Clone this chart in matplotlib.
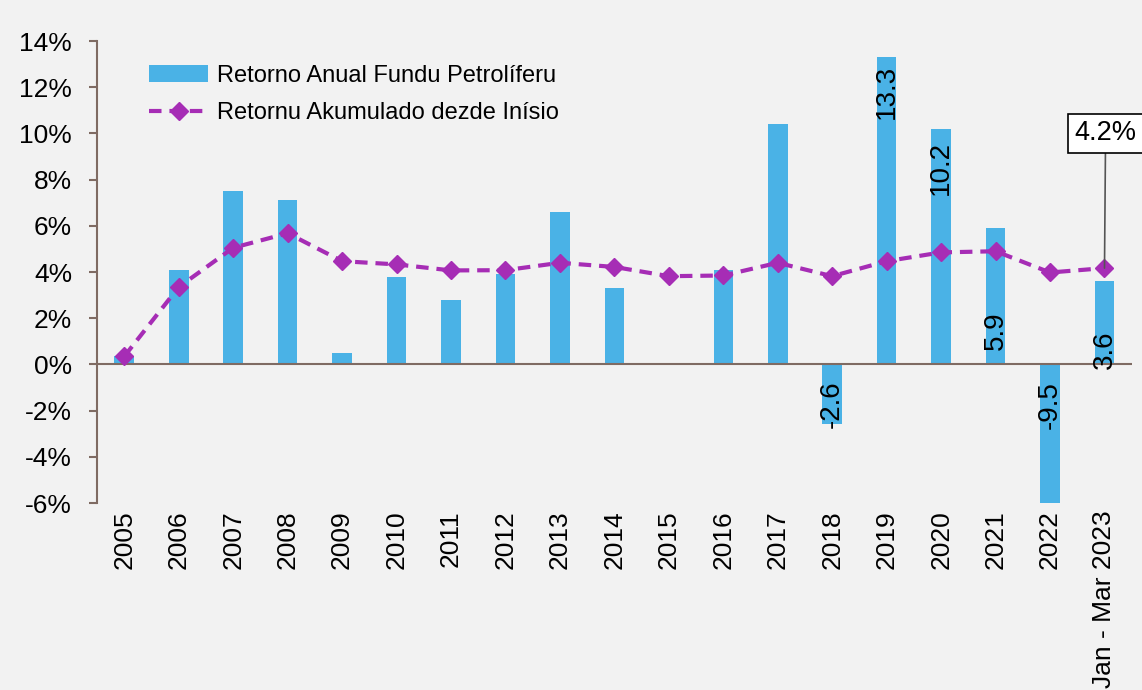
import matplotlib.pyplot as plt
import numpy as np

plt.rcParams['font.family'] = ['Liberation Sans', 'DejaVu Sans']

# data
years = ['2005', '2006', '2007', '2008', '2009', '2010', '2011', '2012', '2013', '2014',
         '2015', '2016', '2017', '2018', '2019', '2020', '2021', '2022', 'Jan - Mar 2023']
annual = [0.35, 4.1, 7.5, 7.1, 0.5, 3.8, 2.8, 3.9, 6.6, 3.3,
          0.0, 4.1, 10.4, -2.6, 13.3, 10.2, 5.9, -9.5, 3.6]
cumulative = [0.35, 3.35, 5.05, 5.68, 4.47, 4.33, 4.07, 4.08, 4.4, 4.22,
              3.82, 3.85, 4.4, 3.82, 4.47, 4.85, 4.9, 3.98, 4.17]
labelled = {13: '-2.6', 14: '13.3', 15: '10.2', 16: '5.9', 17: '-9.5', 18: '3.6'}
label_y = {13: -1.7, 14: 11.8, 15: 8.5, 16: 1.45, 17: -1.75, 18: 0.65}

bar_color = '#4AB2E6'
line_color = '#A62DB5'
axis_color = '#7F6B63'
bg = '#F2F2F2'

fig = plt.figure(figsize=(11.42, 6.9), dpi=100, facecolor=bg)
ax = fig.add_axes([0.085, 0.271, 0.906, 0.6695])
ax.set_facecolor(bg)

x = np.arange(len(years))
bars = ax.bar(x, annual, width=0.36, color=bar_color, label='Retorno Anual Fundu Petrolíferu', zorder=2)
line, = ax.plot(x, cumulative, color=line_color, lw=3, ls=(0, (3, 1.9)), marker='D', markersize=9.5,
                label='Retornu Akumulado dezde Inísio', zorder=4)

ax.axhline(0, color=axis_color, lw=1.5, zorder=3)

for i, txt in labelled.items():
    ax.text(x[i], label_y[i], txt, rotation=90, ha='center', va='center', fontsize=20, zorder=5)

ax.annotate('4.2%', xy=(x[-1], cumulative[-1]), xytext=(x[-1] + 0.02, 10.0),
            ha='center', va='center', fontsize=19.5, zorder=6,
            bbox=dict(boxstyle='square,pad=0.25', fc='white', ec='black', lw=1.2),
            arrowprops=dict(arrowstyle='-', color='#555555', lw=1.2, shrinkA=0, shrinkB=0))

ax.set_xlim(-0.5, len(years) - 0.5)
ax.set_ylim(-6, 14)
ax.set_yticks(np.arange(-6, 15, 2))
ax.set_yticklabels([f'{v}%' for v in range(-6, 15, 2)])
ax.set_xticks(x)
ax.set_xticklabels(years, rotation=90)

for s in ['top', 'right', 'bottom']:
    ax.spines[s].set_visible(False)
ax.spines['left'].set_color(axis_color)
ax.spines['left'].set_linewidth(1.5)
ax.tick_params(axis='y', direction='out', length=6, width=1.5, color=axis_color, labelsize=19, pad=12)
ax.tick_params(axis='x', length=0, labelsize=19, pad=5)

ax.legend([bars, line], [bars.get_label(), line.get_label()],
          loc='upper left', bbox_to_anchor=(0.03, 0.995), frameon=False, fontsize=17,
          handlelength=2.5, handletextpad=0.35, labelspacing=0.65)

fig.savefig('out.png', dpi=100, facecolor=bg)
